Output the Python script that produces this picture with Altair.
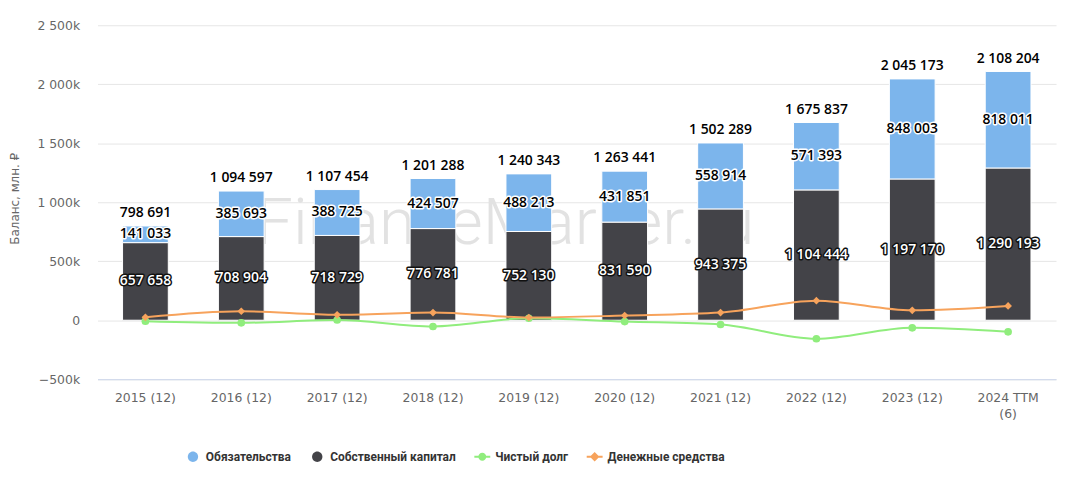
import altair as alt
import pandas as pd

cats = ["2015 (12)", "2016 (12)", "2017 (12)", "2018 (12)", "2019 (12)",
        "2020 (12)", "2021 (12)", "2022 (12)", "2023 (12)", "2024 TTM (6)"]
equity = [657658, 708904, 718729, 776781, 752130, 831590, 943375, 1104444, 1197170, 1290193]
liabilities = [141033, 385693, 388725, 424507, 488213, 431851, 558914, 571393, 848003, 818011]
totals = [798691, 1094597, 1107454, 1201288, 1240343, 1263441, 1502289, 1675837, 2045173, 2108204]
net_debt = [-8000, -22000, 2000, -53000, 17000, -11000, -36000, -157000, -64000, -98000]
cash = [25000, 76000, 46000, 65000, 23000, 40000, 65000, 166000, 84000, 121000]

S_LIAB = "Обязательства"
S_EQ = "Собственный капитал"
S_ND = "Чистый долг"
S_CASH = "Денежные средства"
series_names = [S_LIAB, S_EQ, S_ND, S_CASH]
series_colors = ["#7cb5ec", "#434348", "#90ed7d", "#f7a35c"]

bars_df = pd.DataFrame(
    [{"cat": c, "series": S_EQ, "value": e, "ord": 0} for c, e in zip(cats, equity)]
    + [{"cat": c, "series": S_LIAB, "value": l, "ord": 1} for c, l in zip(cats, liabilities)]
)
lab_df = pd.DataFrame({"cat": cats, "equity": equity, "liab": liabilities, "total": totals})
lines_df = pd.DataFrame({"cat": cats, "nd": net_debt, "cash": cash})
legend_df = pd.DataFrame({"series": series_names, "cat": cats[:4]})
wm_df = pd.DataFrame({"t": ["FinanceMarker.ru"]})


def fmt_expr(field):
    return f"replace(format(datum.{field}, ',d'), /,/g, ' ')"


xs = alt.Scale(domain=cats, paddingInner=0, paddingOuter=0)
ys = alt.Scale(domain=[-500000, 2500000], nice=False)
color_scale = alt.Scale(domain=series_names, range=series_colors)

X_AX = alt.Axis(labelExpr="datum.label == '2024 TTM (6)' ? ['2024 TTM', '(6)'] : datum.label",
                labelAngle=0, ticks=False, tickSize=0, labelPadding=12,
                labelFont="DejaVu Sans", labelFontSize=12.5, labelColor="#666666",
                labelLineHeight=17, domainColor="#ccd6eb", domainWidth=1, grid=False)
Y_TITLE = "Баланс, млн. ₽"
Y_AX = alt.Axis(values=[-500000, 0, 500000, 1000000, 1500000, 2000000, 2500000],
                labelExpr="datum.value == 0 ? '0' : replace(format(datum.value/1000, ',d'), /,/g, ' ') + 'k'",
                ticks=False, tickSize=0, domain=False, labelPadding=18,
                labelFont="DejaVu Sans", labelFontSize=12.5, labelColor="#666666",
                gridColor="#e6e6e6", gridWidth=1,
                titleFont="DejaVu Sans", titleFontSize=12, titleFontWeight="normal",
                titleColor="#666666", titleX=-83, titleY=174, titleAngle=270,
                titleAlign="center", titleBaseline="middle")

X = alt.X("cat:N", scale=xs, sort=cats, title=None, axis=X_AX)


def Y(f, **kw):
    return alt.Y(f, scale=ys, title=Y_TITLE, axis=Y_AX, **kw)


LEG = alt.Legend(title=None, orient="none", legendX=88, legendY=426,
                 direction="horizontal", symbolSize=256, symbolStrokeWidth=0,
                 labelFont="Roboto", labelFontSize=12, labelFontWeight="bold", labelColor="#333333",
                 labelOffset=5, columnPadding=18)

circle_p = "M-0.65,0 A0.65,0.65 0 1,1 0.65,0 A0.65,0.65 0 1,1 -0.65,0 Z"
line_circle_p = ("M-1,-0.125 L1,-0.125 L1,0.125 L-1,0.125 Z "
                 "M-0.5,0 A0.5,0.5 0 1,1 0.5,0 A0.5,0.5 0 1,1 -0.5,0 Z")
line_diamond_p = ("M-1,-0.125 L1,-0.125 L1,0.125 L-1,0.125 Z "
                  "M0,-0.6 L0.6,0 L0,0.6 L-0.6,0 Z")

legend_layer = alt.Chart(legend_df).transform_filter("false").mark_point(filled=True, opacity=1).encode(
    x=X,
    color=alt.Color("series:N", scale=color_scale, legend=LEG),
    shape=alt.Shape("series:N", scale=alt.Scale(domain=series_names,
                                                range=[circle_p, circle_p, line_circle_p, line_diamond_p]),
                    legend=LEG),
)

watermark = alt.Chart(wm_df).mark_text(
    font="Roboto", fontWeight=300, fontSize=66, color="#e2e2e2", align="center", baseline="middle"
).encode(text="t:N", x=alt.value(410), y=alt.value(200))

bars = alt.Chart(bars_df).mark_bar(size=46, stroke="white", strokeWidth=1).encode(
    x=X,
    y=Y("value:Q", stack="zero"),
    color=alt.Color("series:N", scale=color_scale, legend=LEG),
    order=alt.Order("ord:Q", sort="ascending"),
)

nd_line = alt.Chart(lines_df).mark_line(color="#90ed7d", strokeWidth=2, interpolate="monotone").encode(
    x=X, y=Y("nd:Q"))
nd_pts = alt.Chart(lines_df).mark_point(color="#90ed7d", filled=True, opacity=1, size=60, shape="circle").encode(
    x=X, y=Y("nd:Q"))
cash_line = alt.Chart(lines_df).mark_line(color="#f7a35c", strokeWidth=2, interpolate="monotone").encode(
    x=X, y=Y("cash:Q"))
cash_pts = alt.Chart(lines_df).mark_point(color="#f7a35c", filled=True, opacity=1, size=60, shape="diamond").encode(
    x=X, y=Y("cash:Q"))

lab_base = alt.Chart(lab_df).transform_calculate(
    eq_mid="datum.equity / 2",
    liab_mid="datum.equity + datum.liab / 2",
    eq_txt=fmt_expr("equity"),
    liab_txt=fmt_expr("liab"),
    tot_txt=fmt_expr("total"),
)
txt_style = dict(font="Open Sans", fontSize=14, fontWeight=600, align="center")

eq_outline = lab_base.mark_text(baseline="middle", stroke="#111111", strokeWidth=3, strokeJoin="round",
                                fill="#111111", **txt_style).encode(x=X, y=Y("eq_mid:Q"), text="eq_txt:N")
eq_fill = lab_base.mark_text(baseline="middle", fill="white", **txt_style).encode(
    x=X, y=Y("eq_mid:Q"), text="eq_txt:N")
li_outline = lab_base.mark_text(baseline="middle", stroke="white", strokeWidth=3, strokeJoin="round",
                                fill="white", **txt_style).encode(x=X, y=Y("liab_mid:Q"), text="liab_txt:N")
li_fill = lab_base.mark_text(baseline="middle", fill="#000000", **txt_style).encode(
    x=X, y=Y("liab_mid:Q"), text="liab_txt:N")
tot = lab_base.mark_text(baseline="alphabetic", dy=-9, fill="#000000", **txt_style).encode(
    x=X, y=Y("total:Q"), text="tot_txt:N")

chart = alt.layer(
    legend_layer, watermark, bars, nd_line, nd_pts, cash_line, cash_pts,
    eq_outline, eq_fill, li_outline, li_fill, tot
).properties(
    width=964, height=356,
    autosize=alt.AutoSizeParams(type="none"),
    padding={"left": 90, "top": 16, "right": 5, "bottom": 100},
).configure_view(stroke=None)

chart.save("out.html", embed_options={"renderer": "svg", "actions": False})
